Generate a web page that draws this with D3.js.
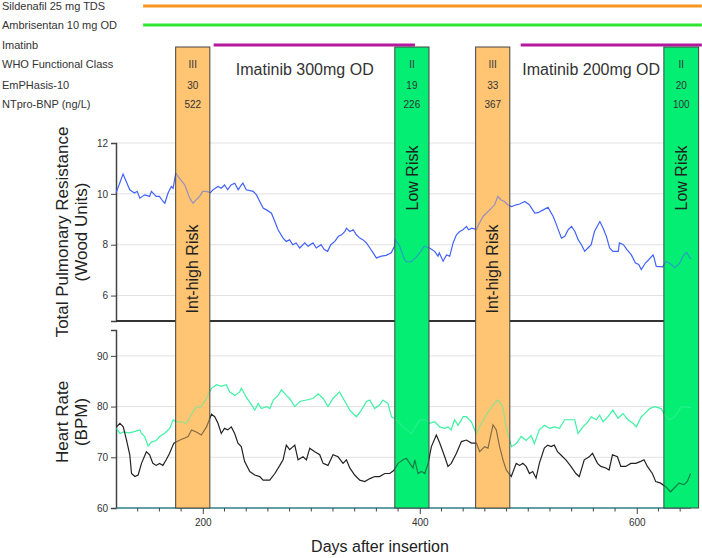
<!DOCTYPE html>
<html><head><meta charset="utf-8">
<script src="https://cdn.jsdelivr.net/npm/d3@7"></script>
<style>body{margin:0;background:#fff;} svg{font-family:"Liberation Sans",Arial,Helvetica,sans-serif;}</style>
</head><body><svg id="c" width="702" height="558"></svg>
<script>
// ---------- DATA ----------
const rowLabels = ["Sildenafil 25 mg TDS","Ambrisentan 10 mg OD","Imatinb","WHO Functional Class","EmPHasis-10","NTpro-BNP (ng/L)"];
const drugs = [
  {row:0, start:145, end:660, kind:"sildenafil"},
  {row:1, start:145, end:660, kind:"ambrisentan"},
  {row:2, start:210, end:395.5, kind:"imatinib"},
  {row:2, start:493, end:660, kind:"imatinib"}
];
const doseLabels = [{day:294, text:"Imatinib 300mg OD"},{day:558, text:"Imatinib 200mg OD"}];
const bands = [
  {start:175, end:206.5, risk:"Int-high Risk", who:"III", emph:"30", bnp:"522", kind:"int"},
  {start:377, end:408.5, risk:"Low Risk", who:"II", emph:"19", bnp:"226", kind:"low"},
  {start:451.5, end:483, risk:"Int-high Risk", who:"III", emph:"33", bnp:"367", kind:"int"},
  {start:625, end:657, risk:"Low Risk", who:"II", emph:"20", bnp:"100", kind:"low"}
];
const xMajorTicks = [200,400,600];
const xMinorTicks = d3.range(140, 660, 20);
const tprTicks = [6,8,10,12];
const hrTicks = [60,70,80,90];

const tpr = [[120,10.03],[126.5,10.78],[132.7,10.16],[137,10.03],[139.5,10.1],[142,9.83],[146.5,9.96],[151,9.9],[152.6,10.1],[157,9.9],[160,9.9],[163.4,9.7],[165,9.63],[168,10.03],[171,10.29],[172.6,10.22],[175.1,10.81],[178.8,10.6],[183.4,10.35],[188,9.83],[191,9.63],[194,9.77],[197,9.9],[200,10.1],[203,10.1],[207,10.05],[209.5,10.16],[214,10.29],[217,10.22],[220,10.35],[223,10.16],[226,10.35],[229.5,10.42],[232.6,10.16],[235.6,10.35],[237,10.42],[240,10.16],[246.4,10.1],[249.5,9.96],[252.5,9.7],[255.6,9.44],[258.7,9.37],[263.3,9.24],[266.4,8.91],[269.4,8.59],[274,8.26],[277,8.13],[280,8.19],[283,8.0],[286,8.07],[289.4,7.87],[294,8.07],[297,7.94],[301.6,8.07],[304.6,7.87],[309,8.0],[312,7.81],[315,7.74],[318,8.0],[321.7,8.13],[325,8.33],[328,8.39],[331,8.52],[332.4,8.65],[335.5,8.52],[338.6,8.59],[341.6,8.39],[344.7,8.26],[347.8,8.19],[350.9,8.07],[354,7.87],[357,7.68],[360,7.48],[364.7,7.55],[369,7.58],[373.7,7.68],[376.8,7.95],[377.5,8.2],[381.5,7.94],[386,7.41],[387.6,7.33],[392,7.33],[396.6,7.5],[401,7.74],[404,7.94],[409,7.87],[413.7,7.74],[416.8,7.55],[418,7.68],[421.5,7.35],[424.6,7.6],[427.6,7.55],[430.7,8.07],[433.8,8.39],[436.8,8.52],[439.9,8.59],[443,8.72],[445,8.59],[448,8.65],[452.2,8.6],[455,8.85],[458.3,9.11],[464.5,9.37],[469,9.57],[472,9.9],[475,9.76],[478,9.7],[481,9.57],[484.5,9.5],[489,9.57],[492,9.6],[496.8,9.7],[501,9.57],[506,9.24],[509,9.26],[513.8,9.37],[518.2,9.47],[523,9.11],[526,8.78],[530.6,8.26],[533.7,8.33],[536.8,8.59],[539.9,8.72],[543,8.52],[546,8.2],[549,8.0],[552,7.74],[555,7.87],[558,8.0],[561,8.52],[566,8.91],[569,8.65],[572,8.33],[575,7.87],[578,7.74],[583,7.74],[584,8.07],[587.7,8.0],[591,7.81],[595,7.6],[598.8,7.28],[601.8,7.22],[604.2,7.02],[608,7.28],[611,7.41],[615,7.6],[616,7.48],[618,7.15],[624,7.13],[627,7.35],[632,7.22],[635,7.09],[639.6,7.28],[642.7,7.55],[646,7.7],[649,7.48],[650.4,7.45]];

const hrGreen = [[120.5,75.7],[123.6,74.7],[127,75.0],[131.6,74.8],[136,75.0],[142,75.4],[143.5,74.7],[146.5,74.1],[149.6,72.2],[152.6,73.0],[157,73.3],[160.2,74.1],[164.7,74.7],[169.6,75.7],[172.6,77.4],[175.7,77.0],[180,77.0],[184.7,76.7],[187.7,77.7],[191,79.0],[194,79.9],[198.6,80],[203.4,81.6],[208,83.6],[212.6,84.3],[217,84.0],[221.7,84.3],[224.7,82.9],[229.5,82.2],[234,82.9],[235.6,83.6],[240,81.9],[245,80.3],[248,79.3],[251,80.6],[254,79.6],[258.7,80],[261.7,79.6],[265,81.3],[269.4,82.2],[272.5,83.3],[277,82.2],[280,81.6],[284.8,80],[289.4,81.0],[295.6,81.3],[301.6,81.6],[306.3,82.5],[311,81.6],[315.4,80],[320,81.6],[326,82.9],[331,81.0],[335.5,79.3],[341.6,78.0],[346.2,79.3],[350.8,81.0],[354,81.3],[358.4,79.6],[363,80.3],[366,81.3],[370.7,80.6],[373.9,78.0],[378.5,77.4],[384.6,76.0],[392.3,74.7],[400,77.4],[406,77.4],[409.2,76.7],[413.8,77.0],[418.4,76.0],[423,75.7],[426,76.0],[429,75.4],[432,77.4],[435.3,76.3],[440,78.0],[443,78.0],[447.6,77.0],[452,74.7],[455,76.0],[459.6,77.7],[464.2,79.3],[468.8,80.6],[472,81.3],[476.4,80],[479.5,76.0],[484.5,72.1],[489,72.7],[493.4,74.1],[498,73.3],[502.6,74.3],[505.6,72.7],[510.2,75.4],[515,76.3],[519.5,75.7],[524,76.0],[528.7,75.7],[533.6,77.4],[538,77.4],[542.8,77.4],[545.9,74.7],[550.5,76.0],[555,77.0],[558,78.0],[562.7,77.4],[565.8,78.3],[568.9,77.0],[573.5,78.0],[578,79.3],[582.7,77.7],[587.3,78.6],[591.9,77.4],[596.5,76.7],[599.6,76.0],[604.2,78.0],[607.3,78.6],[611.9,79.6],[616.5,80.0],[622.6,79.6],[625.7,78.3],[630,77.4],[635,78.0],[641,80],[650,79.8]];

const hrBlack = [[120.5,76.0],[123.6,76.7],[126.7,76.0],[129.7,73.4],[132.7,70.5],[134.3,66.8],[137.4,66.2],[140.4,66.5],[143.5,68.8],[148,71.1],[151,70.5],[154,68.8],[157,68.4],[160.2,68.8],[163.2,68.4],[166.3,69.5],[169.4,70.8],[173.3,72.8],[179,73.4],[183.4,73.8],[186.5,74.1],[189.6,75.4],[194,75.0],[198.7,74.4],[203.4,76.0],[208,78.5],[211,78.0],[214,76.7],[217,74.7],[220,75.7],[223,75.4],[226.3,76.0],[229.4,74.7],[232.4,72.8],[235.5,72.1],[238.5,69.2],[243.3,67.2],[247.9,66.5],[252.5,66.2],[255.6,65.5],[261.7,65.5],[266.4,66.8],[271,68.4],[274,69.5],[277,72.4],[280.1,71.5],[284.8,72.4],[287.8,69.5],[292.4,70.1],[295.5,69.5],[298.6,71.8],[303.2,71.1],[307.8,70.5],[310.9,68.8],[315.4,68.4],[320,70.5],[324.7,70.1],[329.3,68.8],[332.4,69.5],[335.5,67.9],[340,66.5],[344.7,65.5],[349.3,65.2],[354,65.8],[358.5,66.2],[363,66.2],[367.7,66.8],[372.3,66.8],[376,67.4],[380,68.8],[384.6,69.5],[387.7,69.8],[390.8,68.8],[393.8,67.9],[395.4,69.5],[398.4,66.8],[401.5,67.2],[404.6,66.8],[407.7,68.8],[410.7,72.1],[415.3,74.4],[418.4,72.8],[423,70.1],[426,68.2],[429,68.8],[433.8,70.8],[438.4,73.1],[443,73.4],[447.6,72.8],[452.2,72.8],[455.2,71.1],[459.8,72.1],[462.9,71.8],[467.5,76.4],[470.5,75.4],[473.6,72.1],[476.7,69.5],[479.7,67.5],[484.3,66.2],[488.9,68.8],[492,68.4],[495,68.8],[498,68.2],[501.1,66.8],[504.1,67.2],[507.2,65.9],[510.2,68.8],[514.8,71.8],[517.9,72.4],[521,72.1],[524,72.4],[527,71.1],[531.7,70.1],[534.7,69.5],[539.3,68.2],[543.9,66.8],[547,66.2],[551.6,69.5],[556.2,70.1],[559.2,70.8],[563.8,68.8],[566.9,68.2],[571.5,67.9],[574.5,67.5],[577.6,70.5],[582.2,70.1],[585.3,68.2],[589.9,68.2],[594.5,68.8],[599.1,68.8],[603.7,69.2],[606.7,69.5],[609.8,68.2],[614.4,66.8],[617.5,65.2],[622,64.9],[626.6,64.2],[631.2,63.2],[634.3,63.9],[638.9,64.9],[643.5,64.6],[646.5,65.2],[649.6,66.8]];

// ---------- STYLE / LAYOUT ----------
const svg = d3.select("#c");
const X0 = 116, X1 = 691;
const x = d3.scaleLinear().domain([120,650]).range([X0,X1]);
const yT = d3.scaleLinear().domain([5,12]).range([321,143]);
const yB = d3.scaleLinear().domain([60,95.1]).range([508,330]);
const rowY = [6,25,45,64,85,104];
const drugColor = {sildenafil:"#F7961F", ambrisentan:"#2FE62F", imatinib:"#B3189E"};
const bandColor = {int:"#FFC574", low:"#05EE74"};
const bandTop = 47, bandBottom = 508;
const txt = "#333";

// row labels
svg.append("g").selectAll("text").data(rowLabels).join("text")
  .attr("x",2).attr("y",(d,i)=>rowY[i]).attr("dy","0.35em")
  .attr("font-size",11).attr("fill",txt).text(d=>d);

// drug lines
svg.append("g").selectAll("line").data(drugs).join("line")
  .attr("x1",d=>x(d.start)).attr("x2",d=>x(d.end))
  .attr("y1",d=>rowY[d.row]).attr("y2",d=>rowY[d.row])
  .attr("stroke",d=>drugColor[d.kind]).attr("stroke-width",3);

// dose labels
svg.append("g").selectAll("text").data(doseLabels).join("text")
  .attr("x",d=>x(d.day)).attr("y",69).attr("dy","0.35em").attr("text-anchor","middle")
  .attr("font-size",16).attr("fill",txt).text(d=>d.text);

// gridlines
svg.append("g").selectAll("line").data(tprTicks).join("line")
  .attr("x1",X0).attr("x2",X1).attr("y1",d=>yT(d)).attr("y2",d=>yT(d))
  .attr("stroke","#e2e2e2").attr("stroke-width",1);
svg.append("g").selectAll("line").data(hrTicks.slice(1)).join("line")
  .attr("x1",X0).attr("x2",X1).attr("y1",d=>yB(d)).attr("y2",d=>yB(d))
  .attr("stroke","#e2e2e2").attr("stroke-width",1);

// axes
const axT = svg.append("g").attr("transform",`translate(${X0},0)`)
  .call(d3.axisLeft(yT).tickValues(tprTicks).tickSize(5).tickFormat(d3.format("d")));
const axB = svg.append("g").attr("transform",`translate(${X0},0)`)
  .call(d3.axisLeft(yB).tickValues(hrTicks).tickSize(5).tickFormat(d3.format("d")));
[axT,axB].forEach(a=>{
  a.select(".domain").attr("stroke","#444").attr("stroke-width",1.5);
  a.selectAll(".tick line").attr("stroke","#444");
  a.selectAll(".tick text").attr("font-size",10).attr("fill",txt).attr("font-family","Liberation Sans, Arial, sans-serif");
});
// separator line of the top panel
svg.append("line").attr("x1",X0).attr("x2",X1).attr("y1",yT(5)).attr("y2",yT(5))
  .attr("stroke","#333").attr("stroke-width",2);

// x axis
const axX = svg.append("g").attr("transform",`translate(0,${bandBottom})`)
  .call(d3.axisBottom(x).tickValues(xMajorTicks).tickSize(6).tickPadding(5).tickFormat(d3.format("d")));
axX.select(".domain").attr("stroke","#2f7f86").attr("stroke-width",1.5).attr("d",`M${X0},0H${X1}`);
axX.selectAll(".tick line").attr("stroke","#444");
axX.selectAll(".tick text").attr("font-size",10).attr("fill",txt).attr("font-family","Liberation Sans, Arial, sans-serif");
svg.append("g").selectAll("line").data(xMinorTicks.filter(d=>!xMajorTicks.includes(d))).join("line")
  .attr("x1",d=>x(d)).attr("x2",d=>x(d)).attr("y1",bandBottom).attr("y2",bandBottom+3.5)
  .attr("stroke","#444");

// bands: solid underlay
const bandG1 = svg.append("g");
bandG1.selectAll("rect").data(bands).join("rect")
  .attr("x",d=>x(d.start)).attr("width",d=>x(d.end)-x(d.start))
  .attr("y",bandTop).attr("height",bandBottom-bandTop)
  .attr("fill",d=>bandColor[d.kind]);

// series lines
const lineT = d3.line().x(d=>x(d[0])).y(d=>yT(d[1]));
const lineB = d3.line().x(d=>x(d[0])).y(d=>yB(d[1]));
svg.append("path").datum(tpr).attr("d",lineT).attr("fill","none").attr("stroke","#4262FF").attr("stroke-width",1.2);
svg.append("path").datum(hrGreen).attr("d",lineB).attr("fill","none").attr("stroke","#3DF2A2").attr("stroke-width",1.2);
svg.append("path").datum(hrBlack).attr("d",lineB).attr("fill","none").attr("stroke","#222").attr("stroke-width",1.2);

// bands: translucent overlay + border
svg.append("g").selectAll("rect").data(bands).join("rect")
  .attr("x",d=>x(d.start)).attr("width",d=>x(d.end)-x(d.start))
  .attr("y",bandTop).attr("height",bandBottom-bandTop)
  .attr("fill",d=>bandColor[d.kind]).attr("fill-opacity",0.45)
  .attr("stroke","#444").attr("stroke-width",1);

// band texts
const bt = svg.append("g").selectAll("g").data(bands).join("g");
["who","emph","bnp"].forEach((k,i)=>{
  bt.append("text").attr("x",d=>(x(d.start)+x(d.end))/2).attr("y",rowY[3+i]).attr("dy","0.35em")
    .attr("text-anchor","middle").attr("font-size",10).attr("fill",txt).text(d=>d[k]);
});
bt.append("text")
  .attr("transform",d=>`translate(${(x(d.start)+x(d.end))/2},${d.kind==="int"?269:178}) rotate(-90)`)
  .attr("dy","0.35em").attr("text-anchor","middle").attr("font-size",16).attr("fill","#222")
  .text(d=>d.risk);

// axis titles
function vtitle(lines, cx, cy){
  lines.forEach((t,i)=>{
    svg.append("text").attr("transform",`translate(${cx[i]},${cy}) rotate(-90)`)
      .attr("dy","0.35em").attr("text-anchor","middle").attr("font-size",17).attr("fill","#222").text(t);
  });
}
vtitle(["Total Pulmonary Resistance","(Wood Units)"],[62,81],232);
vtitle(["Heart Rate","(BPM)"],[62,81],422);
svg.append("text").attr("x",380).attr("y",546).attr("dy","0.35em").attr("text-anchor","middle")
  .attr("font-size",16).attr("fill","#222").text("Days after insertion");
</script></body></html>
